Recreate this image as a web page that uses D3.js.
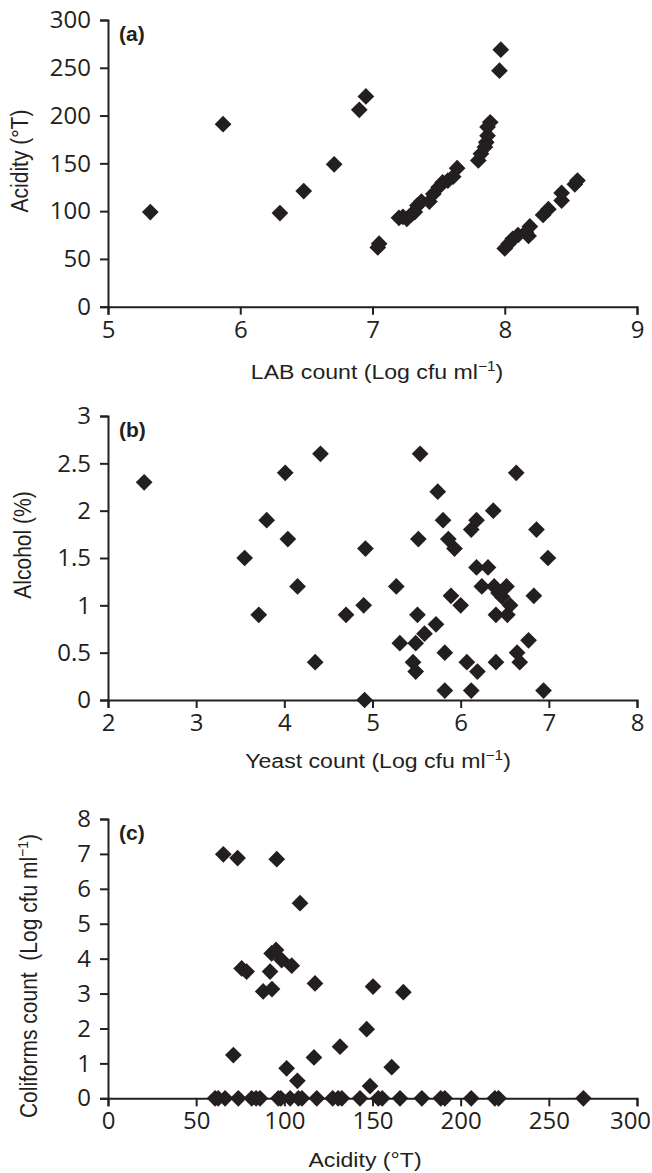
<!DOCTYPE html>
<html>
<head>
<meta charset="utf-8">
<script src="https://cdn.jsdelivr.net/npm/d3@7"></script>
<style>
  body { margin: 0; background: #fff; }
  svg { display: block; }
  .title { font-family: "Liberation Sans", Arial, sans-serif; font-size: 21px; fill: #231f20; white-space: pre; }
  .plabel { font-family: "Liberation Sans", Arial, sans-serif; font-size: 21px; font-weight: bold; fill: #231f20; }
</style>
</head>
<body>
<div id="chart"></div>
<script>
// (a) LAB count vs acidity
const labCount = [5.32, 5.87, 6.30, 6.48, 6.71, 6.90, 6.95, 7.04, 7.05, 7.20, 7.23, 7.26, 7.29, 7.32,
  7.34, 7.37, 7.43, 7.46, 7.50, 7.53, 7.57, 7.61, 7.64, 7.80, 7.82, 7.85, 7.86, 7.87, 7.87, 7.89,
  7.96, 7.97, 8.00, 8.03, 8.06, 8.10, 8.16, 8.18, 8.19, 8.29, 8.33, 8.43, 8.43, 8.53, 8.55]
const acidityA = [99, 191, 98, 121, 149, 206, 220, 62, 66, 93, 94, 92, 96, 99,
  106, 110, 110, 118, 125, 130, 132, 136, 145, 153, 160, 167, 172, 179, 188, 193,
  247, 269, 61, 66, 71, 75, 78, 74, 84, 96, 102, 111, 119, 128, 132]

// (b) yeast count vs alcohol
const yeastCount = [2.41, 3.55, 3.71, 3.80, 4.01, 4.04, 4.15, 4.35, 4.41, 4.70, 4.90, 4.92, 4.91,
  5.27, 5.31, 5.46, 5.49, 5.49, 5.51, 5.52, 5.54, 5.59, 5.72, 5.74, 5.80, 5.82, 5.82, 5.86,
  5.89, 5.93, 6.00, 6.07, 6.12, 6.12, 6.18, 6.18, 6.19, 6.24, 6.31, 6.37, 6.38, 6.40, 6.40,
  6.43, 6.47, 6.52, 6.53, 6.56, 6.63, 6.64, 6.67, 6.77, 6.83, 6.86, 6.94, 6.99]
const alcohol = [2.3, 1.5, 0.9, 1.9, 2.4, 1.7, 1.2, 0.4, 2.6, 0.9, 1.0, 1.6, 0,
  1.2, 0.6, 0.4, 0.3, 0.6, 0.9, 1.7, 2.6, 0.7, 0.8, 2.2, 1.9, 0.5, 0.1, 1.7,
  1.1, 1.6, 1.0, 0.4, 1.8, 0.1, 1.9, 1.4, 0.3, 1.2, 1.4, 2.0, 1.2, 0.9, 0.4,
  1.13, 1.09, 1.2, 0.9, 1.0, 2.4, 0.5, 0.4, 0.63, 1.1, 1.8, 0.1, 1.5]

// (c) acidity vs coliforms count
const acidityC = [65.4, 73.5, 95.7, 108.9, 92.8, 95.3, 98.5, 104.2, 75.8, 78.6, 91.9, 88, 93,
  117.4, 150.3, 167.5, 146.7, 131.6, 71.1, 116.8, 101.3, 160.9, 107.4, 148.6,
  60.7, 62.5, 66.4, 73.9, 81.5, 84, 86.2, 96.6, 98, 103.3, 108, 110, 118.4, 127.4,
  130.5, 132.6, 142.9, 153.3, 155.5, 165.6, 178, 188.7, 191, 206, 219.4, 221.5, 269.6]
const coliforms = [6.99, 6.88, 6.85, 5.59, 4.15, 4.25, 3.96, 3.80, 3.72, 3.63, 3.63, 3.06, 3.13,
  3.29, 3.20, 3.04, 1.98, 1.48, 1.24, 1.17, 0.86, 0.89, 0.50, 0.35,
  0, 0, 0, 0, 0, 0, 0, 0, 0, 0, 0, 0, 0, 0,
  0, 0, 0, 0, 0, 0, 0, 0, 0, 0, 0, 0, 0]

// tick values
const labTicks = [5, 6, 7, 8, 9]
const acidTicks = [0, 50, 100, 150, 200, 250, 300]
const yeastTicks = [2, 3, 4, 5, 6, 7, 8]
const alcTicks = [0, 0.5, 1, 1.5, 2, 2.5, 3]
const coliTicks = [0, 1, 2, 3, 4, 5, 6, 7, 8]

const W = 652, H = 1173
const LEFT = 108, RIGHT = 637
const INK = '#231f20'

const svg = d3.select('#chart').append('svg')
  .attr('width', W).attr('height', H)

const panels = [
  {
    xs: labCount, ys: acidityA, xDomain: [5, 9], yDomain: [0, 300],
    xTicks: labTicks, yTicks: acidTicks, top: 20, bottom: 306.7, label: '(a)',
    xTitle: [['LAB count (Log cfu ml'], ['\u22121', true], [')']], xTitleAt: [377, 379],
    yTitle: [['Acidity (\u00b0T)']], yTitleAt: [28, 161]
  },
  {
    xs: yeastCount, ys: alcohol, xDomain: [2, 8], yDomain: [0, 3],
    xTicks: yeastTicks, yTicks: alcTicks, top: 416, bottom: 700, label: '(b)',
    xTitle: [['Yeast count (Log cfu ml'], ['\u22121', true], [')']], xTitleAt: [378, 768],
    yTitle: [['Alcohol (%)']], yTitleAt: [31, 545]
  },
  {
    xs: acidityC, ys: coliforms, xDomain: [0, 300], yDomain: [0, 8],
    xTicks: acidTicks, yTicks: coliTicks, top: 819, bottom: 1098.3, label: '(c)',
    xTitle: [['Acidity (\u00b0T)']], xTitleAt: [365, 1167],
    yTitle: [['Coliforms count  (Log cfu ml'], ['\u22121', true], [')']], yTitleAt: [37, 976]
  }
]

function addParts(text, parts) {
  parts.forEach(([s, sup], i) => {
    const prevSup = i > 0 && parts[i - 1][1]
    const t = text.append('tspan').text(s)
    if (sup) t.attr('font-size', '14px').attr('dy', -8)
    else if (prevSup) t.attr('dy', 8)
  })
}

const diamond = d3.symbol().type(d3.symbolSquare).size(140)

panels.forEach(p => {
  const x = d3.scaleLinear().domain(p.xDomain).range([LEFT, RIGHT])
  const y = d3.scaleLinear().domain(p.yDomain).range([p.bottom, p.top])

  const styleAxis = sel => {
    sel.attr('font-family', '"Open Sans", sans-serif').attr('font-size', 24)
    sel.select('.domain').attr('stroke', INK).attr('stroke-width', 2)
    sel.selectAll('.tick line').attr('stroke', INK).attr('stroke-width', 2)
    sel.selectAll('.tick text').attr('fill', INK)
  }

  // Y axis
  svg.append('g')
    .attr('transform', `translate(${LEFT},0)`)
    .call(d3.axisLeft(y).tickValues(p.yTicks).tickFormat(d => d).tickSize(8).tickPadding(9))
    .call(styleAxis)

  // X axis
  const xg = svg.append('g')
    .attr('transform', `translate(0,${p.bottom})`)
    .call(d3.axisBottom(x).tickValues(p.xTicks).tickFormat(d => d).tickSize(8).tickPadding(6))
    .call(styleAxis)
  // keep a wide last label inside the page
  xg.selectAll('.tick text')
    .filter(d => d === p.xTicks[p.xTicks.length - 1] && String(d).length > 1)
    .attr('dx', -7)

  // points
  svg.append('g')
    .selectAll('path')
    .data(p.xs.map((v, i) => [v, p.ys[i]]))
    .enter()
    .append('path')
    .attr('d', diamond)
    .attr('transform', d => `translate(${x(d[0])},${y(d[1])}) rotate(45)`)
    .attr('fill', INK)

  // panel label
  svg.append('text').attr('class', 'plabel')
    .attr('x', LEFT + 11).attr('y', p.top + 21)
    .text(p.label)

  // axis titles
  const xt = svg.append('g')
    .attr('transform', `translate(${p.xTitleAt[0]},${p.xTitleAt[1]}) scale(1.1,1)`)
    .append('text').attr('class', 'title').attr('text-anchor', 'middle')
  addParts(xt, p.xTitle)

  const yt = svg.append('g')
    .attr('transform', `translate(${p.yTitleAt[0]},${p.yTitleAt[1]}) scale(1.1,1) rotate(-90)`)
    .append('text').attr('class', 'title').attr('text-anchor', 'middle')
  addParts(yt, p.yTitle)
})
</script>
</body>
</html>
